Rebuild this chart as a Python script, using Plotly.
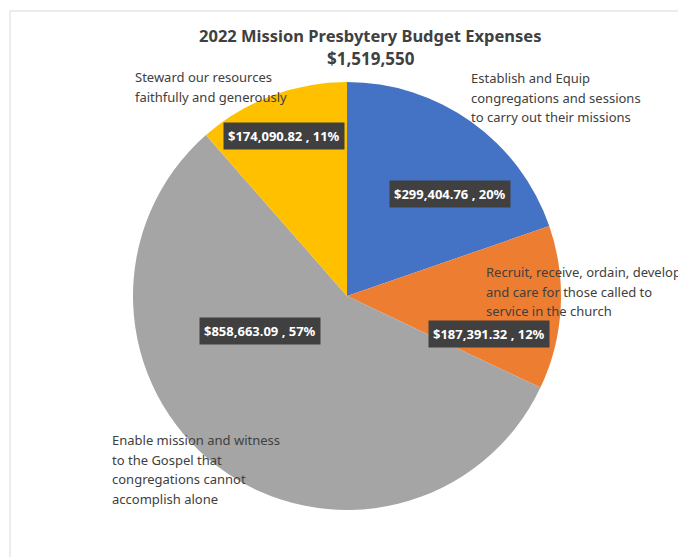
import plotly.graph_objects as go

categories = [
    "Establish and Equip<br>congregations and sessions<br>to carry out their missions",
    "Recruit, receive, ordain, develop,<br>and care for those called to<br>service in the church",
    "Enable mission and witness<br>to the Gospel that<br>congregations cannot<br>accomplish alone",
    "Steward our resources<br>faithfully and generously",
]
values = [299404.76, 187391.32, 858663.09, 174090.82]
colors = ["#4472C4", "#ED7D31", "#A5A5A5", "#FFC000"]
total_label = "$1,519,550"
title_text = "2022 Mission Presbytery Budget Expenses"

W, H = 686, 557
OFF = 8  # page body margin
total = sum(values)
pct = [round(v / total * 100) for v in values]
value_labels = [f"${v:,.2f} , {p}%" for v, p in zip(values, pct)]


def px(x, y):
    return (x - OFF) / W, 1 - (y - OFF) / H


fig = go.Figure()
x0, y0 = px(133, 513)
x1, y1 = px(561, 79)
fig.add_trace(go.Pie(
    values=values,
    labels=[c.replace("<br>", " ") for c in categories],
    marker=dict(colors=colors, line=dict(width=0)),
    sort=False,
    direction="clockwise",
    rotation=0,
    textinfo="none",
    hoverinfo="label+value+percent",
    showlegend=False,
    domain=dict(x=[x0, x1], y=[y0, y1]),
))

FONT = "Noto Sans"
TXT = "#404040"
LINE_GAP = 19.5

# x of left edge, y centre of first line
cat_pos = [(469, 78), (484, 272), (110, 440), (133, 77)]
for text, (x, y) in zip(categories, cat_pos):
    for i, line in enumerate(text.split("<br>")):
        ax, ay = px(x, y + i * LINE_GAP)
        fig.add_annotation(x=ax, y=ay, xref="paper", yref="paper", text=line,
                           showarrow=False, xanchor="left", yanchor="middle", align="left",
                           font=dict(family=FONT, size=13, color=TXT))

val_pos = [(450, 194), (489, 334), (260, 331), (284, 136)]
for text, (x, y) in zip(value_labels, val_pos):
    ax, ay = px(x, y)
    fig.add_annotation(x=ax, y=ay, xref="paper", yref="paper", text=text,
                       showarrow=False, xanchor="center", yanchor="middle",
                       bgcolor="#404040", borderpad=4,
                       font=dict(family=FONT, size=13, color="white", weight="bold"))

tx, ty = px(370, 35)
fig.add_annotation(x=tx, y=ty, xref="paper", yref="paper",
                   text=f"<b>{title_text}</b>",
                   showarrow=False, xanchor="center", yanchor="middle",
                   font=dict(family=FONT, size=16.5, color=TXT))
tx, ty = px(371, 58)
fig.add_annotation(x=tx, y=ty, xref="paper", yref="paper",
                   text=f"<b>{total_label}</b>",
                   showarrow=False, xanchor="center", yanchor="middle",
                   font=dict(family=FONT, size=17, color=TXT))

fx0, fy1 = px(10, 11)
fig.add_shape(type="rect", xref="paper", yref="paper",
              x0=fx0, y0=-0.05, x1=1.05, y1=fy1,
              line=dict(color="#D9D9D9", width=1), fillcolor="rgba(0,0,0,0)")

fig.update_layout(width=W, height=H, margin=dict(l=0, r=0, t=0, b=0),
                  paper_bgcolor="white", plot_bgcolor="white")
fig.write_html("out.html")
